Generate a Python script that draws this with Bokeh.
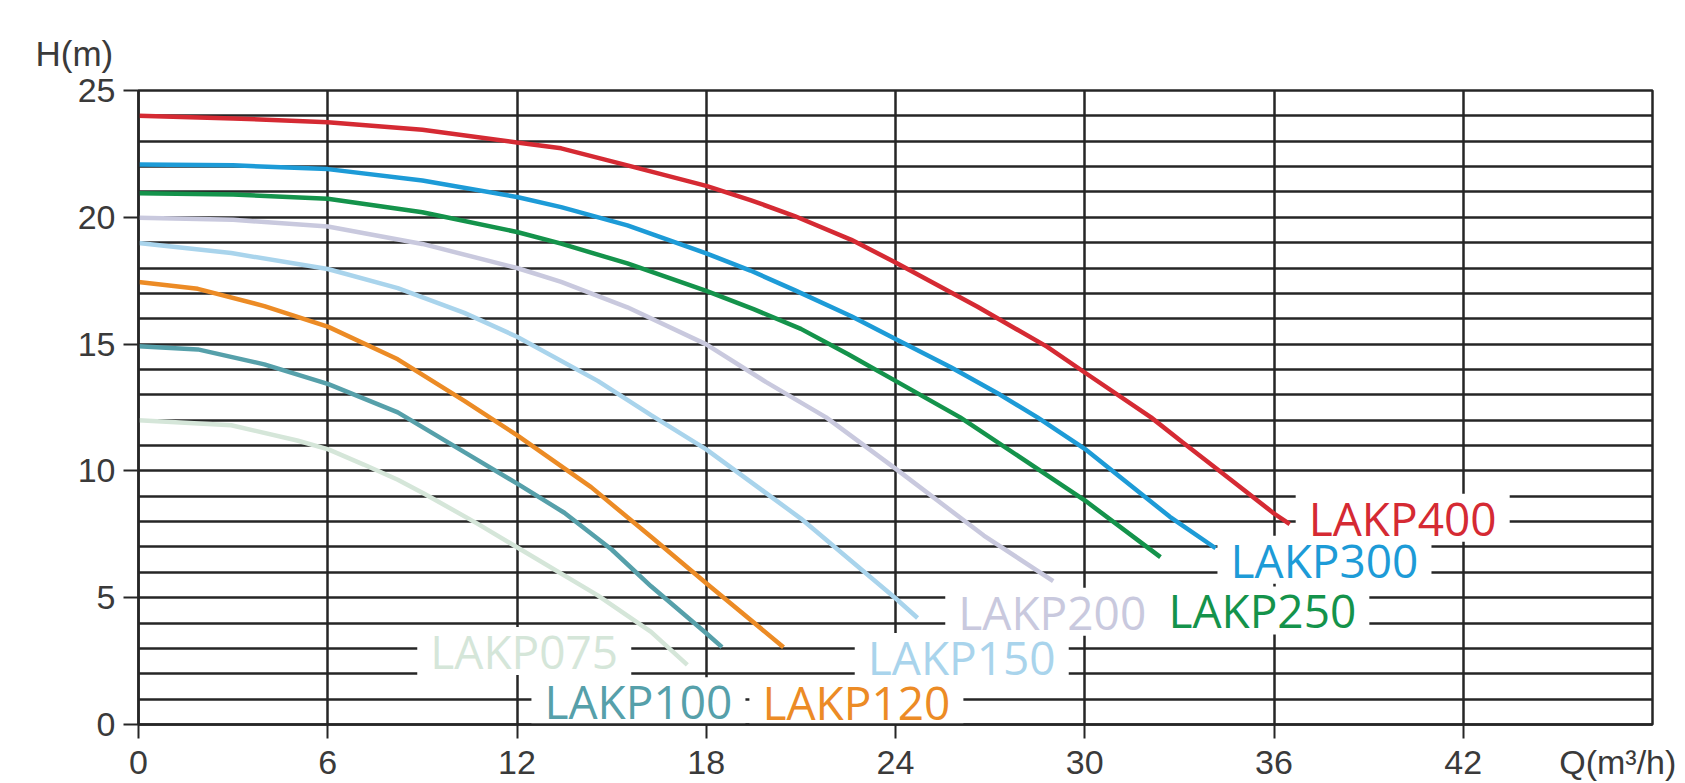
from bokeh.plotting import figure
from bokeh.models import Range1d, FixedTicker, LinearAxis, ColumnDataSource
from bokeh.core.properties import value
from bokeh.embed import file_html
from bokeh.resources import INLINE

# ---- data ----
models = ["LAKP075", "LAKP100", "LAKP120", "LAKP150", "LAKP200", "LAKP250", "LAKP300", "LAKP400"]
colors = ["#d5e6d9", "#56a0aa", "#ec8b25", "#a9d4ec", "#c9c9de", "#14934b", "#1d9bd7", "#d52a33"]

q_075 = [0, 2.94, 5.03, 6.02, 7.14, 8.22, 9.06, 10.73, 12, 14.56, 16.25, 17.4]
h_075 = [12.0, 11.8, 11.2, 10.85, 10.25, 9.65, 9.1, 7.93, 6.99, 5.09, 3.65, 2.35]

q_100 = [0, 1.88, 3.99, 6.02, 8.22, 10.33, 12.02, 13.5, 15, 16.25, 18, 18.5]
h_100 = [14.92, 14.79, 14.2, 13.42, 12.31, 10.74, 9.49, 8.35, 6.9, 5.45, 3.6, 3.05]

q_120 = [0, 1.88, 3.99, 6.02, 8.22, 10.33, 12.02, 14.35, 16.25, 18, 20.45]
h_120 = [17.45, 17.18, 16.5, 15.68, 14.4, 12.76, 11.39, 9.36, 7.4, 5.57, 3.05]

q_150 = [0, 2.94, 6, 8.22, 10.33, 12, 14.56, 16.25, 18, 21, 24, 24.7]
h_150 = [18.99, 18.59, 17.96, 17.21, 16.23, 15.29, 13.55, 12.2, 10.85, 8.12, 4.98, 4.2]

q_200 = [0, 3, 6, 9, 12, 13.4, 15.5, 18, 19.9, 21.8, 24, 26.8, 29.0]
h_200 = [19.98, 19.9, 19.64, 18.95, 18.0, 17.45, 16.45, 14.99, 13.5, 12.11, 10.09, 7.45, 5.65]

q_250 = [0, 3, 6, 9, 12, 13.4, 15.5, 18, 19.5, 21, 22.5, 24, 26.05, 30, 32.4]
h_250 = [20.95, 20.9, 20.73, 20.2, 19.42, 18.96, 18.18, 17.1, 16.38, 15.6, 14.6, 13.55, 12.11, 8.84, 6.6]

q_300 = [0, 3, 6, 9, 12, 13.4, 15.5, 18, 19.4, 20.8, 22.6, 24, 25.74, 27.32, 28.5, 30, 32.7, 34.15]
h_300 = [22.08, 22.05, 21.9, 21.45, 20.8, 20.4, 19.68, 18.58, 17.9, 17.13, 16.1, 15.2, 14.1, 13.0, 12.11, 10.87, 8.19, 6.95]

q_400 = [0, 3, 6, 9, 12, 13.4, 15.5, 18, 19.4, 20.8, 22.6, 24, 26.6, 28.8, 30, 32.1, 33.1, 34.6, 36, 36.5]
h_400 = [24.0, 23.9, 23.75, 23.45, 22.95, 22.72, 22.05, 21.24, 20.68, 20.05, 19.11, 18.22, 16.47, 14.9, 13.88, 12.11, 11.13, 9.68, 8.32, 7.9]

series_q = [q_075, q_100, q_120, q_150, q_200, q_250, q_300, q_400]
series_h = [h_075, h_100, h_120, h_150, h_200, h_250, h_300, h_400]

# curve label anchors (centre of each model name)
label_x = [12.23, 15.85, 22.76, 26.1, 28.97, 35.63, 37.6, 40.08]
label_y = [2.9, 0.92, 0.9, 2.66, 4.45, 4.5, 6.5, 8.15]

x_ticks = [0, 6, 12, 18, 24, 30, 36, 42]
x_grid = [0, 6, 12, 18, 24, 30, 36, 42, 48]
y_ticks = [0, 5, 10, 15, 20, 25]
y_grid = list(range(0, 26))
x_label = "Q(m³/h)"
x_label_pos = 46.9
y_label = "H(m)"

GRID = "#262626"
TXT = "#3a3a3a"

p = figure(width=1685, height=783, x_range=Range1d(0, 48), y_range=Range1d(0, 25),
           output_backend="svg", toolbar_location=None,
           min_border_left=138, min_border_right=33, min_border_top=90, min_border_bottom=56)
p.background_fill_color = "white"
p.border_fill_color = "white"
p.outline_line_color = GRID
p.outline_line_width = 2.5
p.outline_line_alpha = 1

# title used as the H(m) axis caption, top-left
p.title.text = y_label
p.title.text_font = "Liberation Sans"
p.title.text_font_size = "35px"
p.title.text_font_style = "normal"
p.title.text_color = TXT
p.title.align = "left"
p.title.offset = -103
p.title.standoff = 36

p.xgrid.ticker = FixedTicker(ticks=x_grid)
p.ygrid.ticker = FixedTicker(ticks=y_grid)
for g in (p.xgrid, p.ygrid):
    g.grid_line_color = GRID
    g.grid_line_width = 2.5
    g.grid_line_alpha = 1

p.xaxis.ticker = FixedTicker(ticks=x_ticks)
p.yaxis.ticker = FixedTicker(ticks=y_ticks)
for ax in (p.xaxis, p.yaxis):
    ax.axis_line_color = GRID
    ax.axis_line_width = 2.5
    ax.major_tick_line_color = GRID
    ax.major_tick_line_width = 2
    ax.major_tick_in = 0
    ax.minor_tick_line_color = None
p.xaxis.major_tick_out = 14
p.yaxis.major_tick_out = 15
p.yaxis.major_label_standoff = 8
p.yaxis.major_label_text_font = "Liberation Sans"
p.yaxis.major_label_text_font_size = "34px"
p.yaxis.major_label_text_color = TXT
# first x axis: tick marks only
p.xaxis.major_label_text_font_size = "1px"
p.xaxis.major_label_text_alpha = 0
p.xaxis.major_label_standoff = 0

# second x axis (stacked below): the tick labels and the Q caption
ax2 = LinearAxis(ticker=FixedTicker(ticks=x_ticks + [x_label_pos]),
                 major_label_overrides={x_label_pos: x_label},
                 axis_line_color=None, major_tick_line_color=None, minor_tick_line_color=None,
                 major_tick_in=0, major_tick_out=0, major_label_standoff=4,
                 major_label_text_font="Liberation Sans", major_label_text_font_size="34px",
                 major_label_text_color=TXT)
p.add_layout(ax2, "below")

for q, h, c in zip(series_q, series_h, colors):
    p.line(q, h, line_width=4.5, line_color=c)

src = ColumnDataSource(dict(x=label_x, y=label_y, t=models, c=colors))
p.rect(x="x", y="y", width=214, height=48, width_units="screen", height_units="screen",
       fill_color="white", line_color=None, source=src)
p.text(x="x", y="y", text="t", text_color="c", source=src,
       text_font=value("Open Sans"), text_font_size="46px",
       text_align="center", text_baseline="middle")

open("out.html", "w").write(file_html(p, INLINE))
